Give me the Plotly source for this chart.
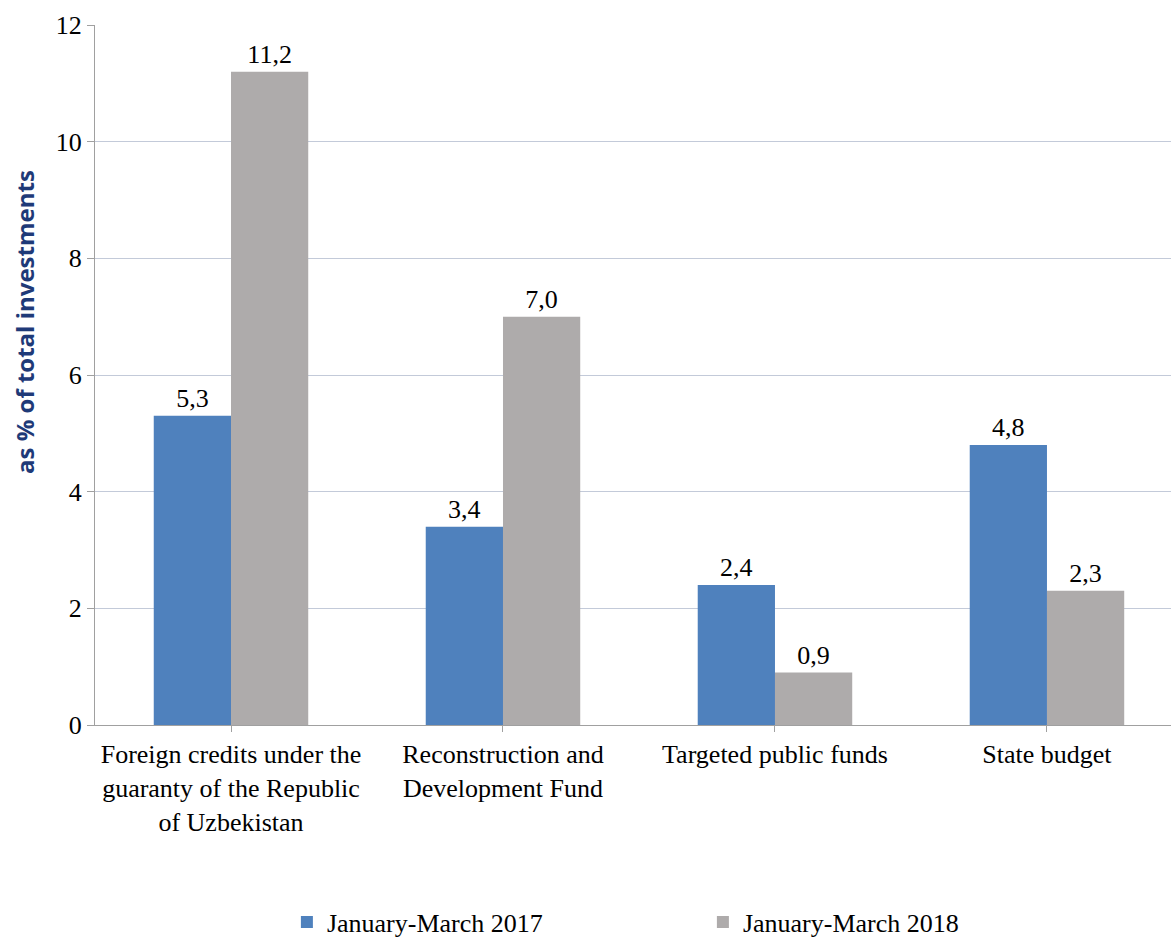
import plotly.graph_objects as go

categories = [
    "Foreign credits under the<br>guaranty of the Republic<br>of Uzbekistan",
    "Reconstruction and<br>Development Fund",
    "Targeted public funds",
    "State budget",
]
series_names = ["January-March 2017", "January-March 2018"]
values_2017 = [5.3, 3.4, 2.4, 4.8]
values_2018 = [11.2, 7.0, 0.9, 2.3]
y_ticks = [0, 2, 4, 6, 8, 10, 12]

serif = "Liberation Serif, Times New Roman, serif"
colors = ["#4F81BD", "#AEABAB"]

fig = go.Figure()
for name, vals, col in zip(series_names, [values_2017, values_2018], colors):
    fig.add_trace(go.Bar(
        name=name,
        x=list(range(len(categories))),
        y=vals,
        marker=dict(color=col, line=dict(width=0)),
        text=[f"{v:.1f}".replace(".", ",") for v in vals],
        textposition="outside",
        textfont=dict(family=serif, size=26, color="#000000"),
        cliponaxis=False,
    ))

fig.update_layout(
    width=1171,
    height=937,
    margin=dict(l=95, r=0, t=25, b=212),
    paper_bgcolor="white",
    plot_bgcolor="white",
    barmode="group",
    bargap=0.432,
    bargroupgap=0,
    font=dict(family=serif, size=26, color="#000000"),
    showlegend=True,
    legend=dict(
        orientation="h",
        xref="container", x=0.245, xanchor="left",
        yref="container", y=0.041, yanchor="top",
        font=dict(family=serif, size=26, color="#000000"),
        entrywidth=371,
        itemwidth=30,
    ),
    xaxis=dict(
        tickmode="array",
        tickvals=list(range(len(categories))),
        ticktext=categories,
        range=[-0.5, 3.456],
        tickson="boundaries",
        ticks="outside",
        ticklen=6,
        tickcolor="#A0A0A0",
        showline=True,
        linecolor="#A0A0A0",
        linewidth=1,
        showgrid=False,
        tickfont=dict(family=serif, size=26),
        automargin=False,
    ),
    yaxis=dict(
        range=[0, 12],
        tickvals=y_ticks,
        ticks="outside",
        ticklen=7,
        tickcolor="#A0A0A0",
        showline=True,
        linecolor="#A0A0A0",
        linewidth=1,
        gridcolor="#C3CAD9",
        gridwidth=1,
        zeroline=False,
        tickfont=dict(family=serif, size=26),
        automargin=False,
    ),
    annotations=[dict(
        text="<b>as % of total investments</b>",
        xref="paper", yref="paper",
        x=-0.066, y=(725 - 322) / 700,
        xanchor="center", yanchor="middle",
        textangle=-90,
        showarrow=False,
        font=dict(family="Open Sans, sans-serif", size=24, color="#1F3A78"),
    )],
)

fig.write_html("out.html")
